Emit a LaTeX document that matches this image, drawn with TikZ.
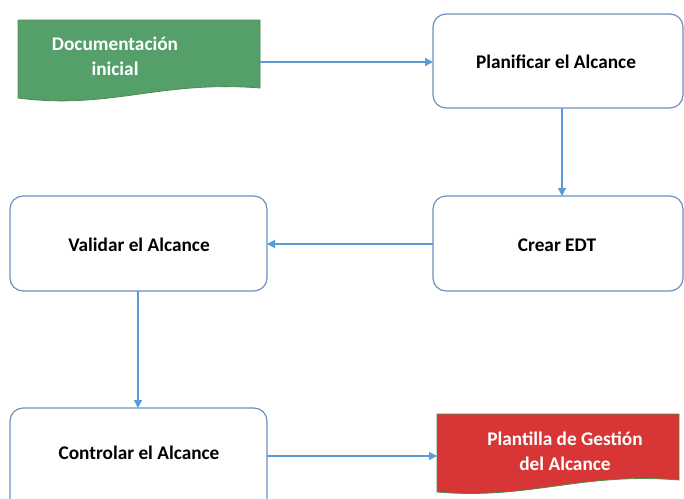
\documentclass[tikz,border=0pt]{standalone}
\usepackage{fontspec}
\setmainfont{Carlito}
\usetikzlibrary{arrows.meta}
\definecolor{boxline}{HTML}{6D90BE}
\definecolor{arrowline}{HTML}{5B9BD5}
\definecolor{docgreen}{HTML}{55A06A}
\definecolor{docgreenline}{HTML}{4E8A4E}
\definecolor{docred}{HTML}{D83636}
\tikzset{
  stepbox/.style={draw=boxline, line width=1.2pt, rounded corners=13pt, fill=white},
  boxtext/.style={font=\bfseries\fontsize{19.3}{23}\selectfont, text=black},
  doctext/.style={font=\bfseries\fontsize{19.3}{25}\selectfont, text=white, align=center},
  flow/.style={draw=arrowline, line width=1.2pt, -{Triangle[length=8pt,width=8pt]}},
}
\begin{document}
\begin{tikzpicture}[x=1pt, y=-1pt]
\useasboundingbox (0,0) rectangle (684,498);
\clip (0,0) rectangle (684,498);

% input document
\path[fill=docgreen, draw=docgreenline, line width=0.8pt]
  (18,20) -- (260,20) -- (260,88)
  .. controls (160,80) and (110,110) .. (18,98) -- cycle;
\node[doctext] (doc) at (115,56) {Documentación\\inicial};
\coordinate (docout) at (260,62);

% output document
\path[fill=docred, draw=docgreenline, line width=0.8pt]
  (437,414) -- (679,414) -- (679,480)
  .. controls (580,472) and (530,500) .. (437,492) -- cycle;
\node[doctext] (tpl) at (565,451) {Plantilla de Gestión\\del Alcance};
\coordinate (tplin) at (437,456);

% process steps
\draw[stepbox] (433,14) rectangle (683,108);
\node[boxtext] (plan) at (556,62) {Planificar el Alcance};
\coordinate (planN) at (433,62);
\coordinate (planS) at (562,108);

\draw[stepbox] (433,196) rectangle (683,291);
\node[boxtext] (edt) at (557,245) {Crear EDT};
\coordinate (edtN) at (562,196);
\coordinate (edtW) at (433,244);

\draw[stepbox] (10,196) rectangle (267,291);
\node[boxtext] (val) at (139,245) {Validar el Alcance};
\coordinate (valE) at (267,244);
\coordinate (valS) at (138,291);

\draw[stepbox] (10,408) rectangle (267,520);
\node[boxtext] (ctl) at (139,453) {Controlar el Alcance};
\coordinate (ctlN) at (138,408);
\coordinate (ctlE) at (267,456);

% connectors
\draw[flow] (docout) -- (planN);
\draw[flow] (planS) -- (edtN);
\draw[flow] (edtW) -- (valE);
\draw[flow] (valS) -- (ctlN);
\draw[flow] (ctlE) -- (tplin);
\end{tikzpicture}
\end{document}
